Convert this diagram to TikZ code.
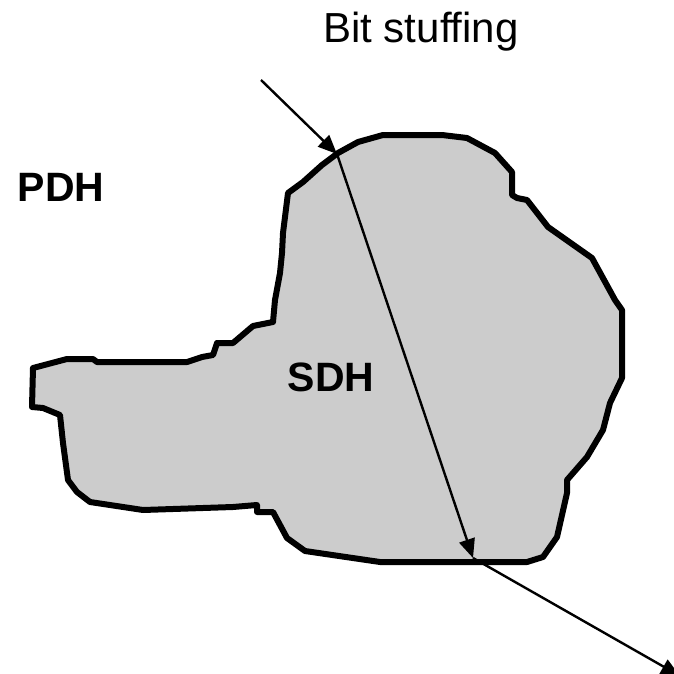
\documentclass[tikz,border=0pt]{standalone}
\usepackage{fontspec}
\setmainfont{Liberation Sans}
\usetikzlibrary{arrows.meta}
\begin{document}
\begin{tikzpicture}[x=1pt,y=-1pt,
  region/.style={fill={rgb,255:red,204;green,204;blue,204}, draw=black, line width=6pt, line join=round},
  label/.style={inner sep=0pt, anchor=base, font=\fontsize{42}{50}\selectfont},
  boldlabel/.style={label, font=\fontsize{41}{49}\selectfont\bfseries},
  ray/.style={draw=black, line width=2.4pt, -{Triangle[length=19pt,width=16pt]}}]
\useasboundingbox (0,0) rectangle (674,674);

% SDH domain outline
\draw[region]
  (288,193) -- (303,182) -- (322,165) -- (338,153) -- (358,142) -- (383,135)
  -- (442,135) -- (467,138) -- (495,153) -- (512,172) -- (512,195) -- (517,198)
  -- (527,200) -- (548,227) -- (592,258) -- (615,300) -- (622,310) -- (622,378)
  -- (610,403) -- (603,430) -- (587,457) -- (567,480) -- (567,493) -- (557,537)
  -- (543,557) -- (527,562) -- (380,562) -- (305,551) -- (287,538) -- (273,512)
  -- (257,512) -- (257,505) -- (233,507) -- (143,510) -- (90,502) -- (77,492)
  -- (68,480) -- (63,443) -- (60,415) -- (43,408) -- (32,407) -- (33,368)
  -- (67,359) -- (93,359) -- (97,362) -- (187,362) -- (202,357) -- (213,355)
  -- (217,343) -- (233,343) -- (253,326) -- (273,322) -- (275,300) -- (280,273)
  -- (282,253) -- (283,233) -- cycle;

% labels
\node[label] (title) at (421,43) {Bit stuffing};
\node[boldlabel] (pdh) at (61,201) {PDH};
\node[boldlabel] (sdh) at (331,391) {SDH};

% path of the stuffed bit
\coordinate (rayStart) at (261,80);
\coordinate (hitTop) at (337,154);
\coordinate (hitBottom) at (473,558);
\coordinate (rayEnd) at (680,676);
\draw[ray] (rayStart) -- (hitTop);
\draw[ray] (hitTop) -- (hitBottom);
\draw[ray] (hitBottom) -- (rayEnd);
\end{tikzpicture}
\end{document}
